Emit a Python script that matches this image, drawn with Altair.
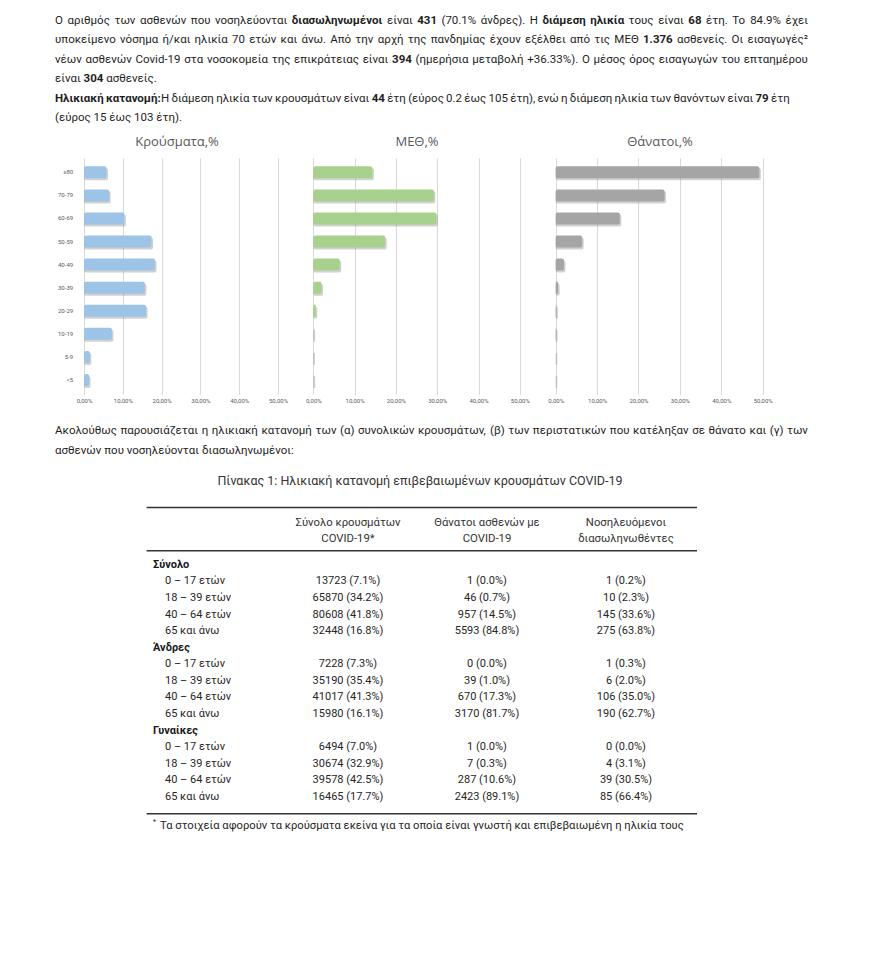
import altair as alt
import pandas as pd
import glob
import os
import struct

FONT = "Roboto"
TITLE_FONT = "Open Sans"
TXT = "#1e1e1e"
AXC = "#595959"
PARA_SIZE = 11.5

# ---------------- data ----------------
ages = ["≥80", "70-79", "60-69", "50-59", "40-49", "30-39", "20-29", "10-19", "5-9", "<5"]
cases_pct = [5.8, 6.5, 10.4, 17.4, 18.3, 15.7, 16.0, 7.2, 1.5, 1.3]
icu_pct = [14.3, 29.2, 29.8, 17.4, 6.4, 2.0, 0.6, 0.1, 0.05, 0.1]
deaths_pct = [49.2, 26.3, 15.5, 6.4, 2.0, 0.6, 0.15, 0.1, 0.0, 0.0]
panel_titles = ["Κρούσματα,%", "ΜΕΘ,%", "Θάνατοι,%"]
x_ticks = [0, 0.1, 0.2, 0.3, 0.4, 0.5]

# paragraph text: (text, bold) runs per line
para1_runs = [
    [("Ο αριθμός των ασθενών που νοσηλεύονται ", 0), ("διασωληνωμένοι", 1), (" είναι ", 0), ("431", 1),
     (" (70.1% άνδρες).  Η ", 0), ("διάμεση ηλικία", 1), (" τους είναι ", 0), ("68", 1),
     (" έτη.  Το 84.9% έχει", 0)],
    [("υποκείμενο νόσημα ή/και ηλικία 70 ετών και άνω.  Από την αρχή της πανδημίας έχουν εξέλθει από τις ΜΕΘ ", 0),
     ("1.376", 1), (" ασθενείς.  Οι εισαγωγές²", 0)],
    [("νέων ασθενών Covid-19 στα νοσοκομεία της επικράτειας είναι ", 0), ("394", 1),
     (" (ημερήσια μεταβολή +36.33%).  Ο μέσος όρος εισαγωγών του επταημέρου", 0)],
    [("είναι ", 0), ("304", 1), (" ασθενείς.", 0)],
    [("Ηλικιακή κατανομή:", 1), ("Η διάμεση ηλικία των κρουσμάτων είναι ", 0), ("44", 1),
     (" έτη (εύρος 0.2 έως 105 έτη), ενώ η διάμεση ηλικία των θανόντων είναι ", 0), ("79", 1), (" έτη", 0)],
    [("(εύρος 15 έως 103 έτη).", 0)],
]
para1_justify = [800, 800, 800, None, 774, None]
para2_runs = [
    [("Ακολούθως παρουσιάζεται η ηλικιακή κατανομή των (α) συνολικών κρουσμάτων, (β) των περιστατικών που κατέληξαν σε θάνατο και (γ) των", 0)],
    [("ασθενών που νοσηλεύονται διασωληνωμένοι:", 0)],
]
para2_justify = [800, None]
table_title = "Πίνακας 1: Ηλικιακή κατανομή επιβεβαιωμένων κρουσμάτων COVID-19"
col_headers = [["Σύνολο κρουσμάτων", "COVID-19*"], ["Θάνατοι ασθενών με", "COVID-19"], ["Νοσηλευόμενοι", "διασωληνωθέντες"]]
groups = ["Σύνολο", "Άνδρες", "Γυναίκες"]
age_groups = ["0 – 17 ετών", "18 – 39 ετών", "40 – 64 ετών", "65 και άνω"]
cases_counts = [13723, 65870, 80608, 32448, 7228, 35190, 41017, 15980, 6494, 30674, 39578, 16465]
cases_share = [7.1, 34.2, 41.8, 16.8, 7.3, 35.4, 41.3, 16.1, 7.0, 32.9, 42.5, 17.7]
deaths_counts = [1, 46, 957, 5593, 0, 39, 670, 3170, 1, 7, 287, 2423]
deaths_share = [0.0, 0.7, 14.5, 84.8, 0.0, 1.0, 17.3, 81.7, 0.0, 0.3, 10.6, 89.1]
icu_counts = [1, 10, 145, 275, 1, 6, 106, 190, 0, 4, 39, 85]
icu_share = [0.2, 2.3, 33.6, 63.8, 0.3, 2.0, 35.0, 62.7, 0.0, 3.1, 30.5, 66.4]
footnote = "Τα στοιχεία αφορούν τα κρούσματα εκείνα για τα οποία είναι γνωστή και επιβεβαιωμένη η ηλικία τους"


# ---------------- text measuring (for inline bold runs / justification) ----------------
class FontMetrics:
    def __init__(self, path):
        d = open(path, "rb").read()
        off0 = struct.unpack(">I", d[12:16])[0] if d[:4] == b"ttcf" else 0
        num = struct.unpack(">H", d[off0 + 4:off0 + 6])[0]
        t = {}
        for i in range(num):
            rec = off0 + 12 + 16 * i
            tag = d[rec:rec + 4].decode("latin1")
            t[tag] = struct.unpack(">I", d[rec + 8:rec + 12])[0]
        self.upem = struct.unpack(">H", d[t["head"] + 18:t["head"] + 20])[0]
        nhm = struct.unpack(">H", d[t["hhea"] + 34:t["hhea"] + 36])[0]
        h = t["hmtx"]
        self.adv = [struct.unpack(">H", d[h + 4 * i:h + 4 * i + 2])[0] for i in range(nhm)]
        c = t["cmap"]
        n = struct.unpack(">H", d[c + 2:c + 4])[0]
        self.sub = None
        for i in range(n):
            pid, eid, so = struct.unpack(">HHI", d[c + 4 + 8 * i:c + 12 + 8 * i])
            fmt = struct.unpack(">H", d[c + so:c + so + 2])[0]
            if fmt == 4 and ((pid == 3 and eid == 1) or pid == 0):
                self.sub = c + so
                break
        if self.sub is None:
            raise ValueError("no cmap")
        self.d = d
        self.cache = {}

    def glyph(self, ch):
        cp = ord(ch)
        d, s = self.d, self.sub
        segx2 = struct.unpack(">H", d[s + 6:s + 8])[0]
        ends = s + 14
        starts = ends + segx2 + 2
        deltas = starts + segx2
        ros = deltas + segx2
        for i in range(segx2 // 2):
            end = struct.unpack(">H", d[ends + 2 * i:ends + 2 * i + 2])[0]
            if cp <= end:
                start = struct.unpack(">H", d[starts + 2 * i:starts + 2 * i + 2])[0]
                if cp < start:
                    return 0
                delta = struct.unpack(">h", d[deltas + 2 * i:deltas + 2 * i + 2])[0]
                ro = struct.unpack(">H", d[ros + 2 * i:ros + 2 * i + 2])[0]
                if ro == 0:
                    return (cp + delta) & 0xFFFF
                addr = ros + 2 * i + ro + 2 * (cp - start)
                g = struct.unpack(">H", d[addr:addr + 2])[0]
                return (g + delta) & 0xFFFF if g else 0
        return 0

    def em(self, ch):
        if ch not in self.cache:
            g = self.glyph(ch)
            a = self.adv[g] if g < len(self.adv) else self.adv[-1]
            self.cache[ch] = a / self.upem
        return self.cache[ch]


def find_font(patterns):
    for p in patterns:
        for root in ["/usr/share/fonts", "/usr/local/share/fonts", os.path.expanduser("~/.fonts"),
                     os.path.expanduser("~/.local/share/fonts")]:
            hits = sorted(glob.glob(os.path.join(root, "**", p), recursive=True))
            if hits:
                return hits[0]
    return None


def try_metrics(patterns):
    path = find_font(patterns)
    if not path:
        return None
    try:
        return FontMetrics(path)
    except Exception:
        return None


REG = try_metrics(["Roboto-Regular.ttf", "Roboto-Regular.otf", "Roboto[wdth,wght].ttf", "Roboto-VariableFont*.ttf"])
BLD = try_metrics(["Roboto-Bold.ttf", "Roboto-Bold.otf"])

FALLBACK = {" ": .2476, ".": .263, ",": .196, ":": .242, "(": .341, ")": .348, "%": .715, "/": .411,
            "+": .554, "-": .276, "ι": .27, "ί": .27, "ω": .79, "ώ": .79, "φ": .70, "Ι": .27, "i": .237,
            "l": .237, "f": .34, "t": .32, "r": .33, "m": .856, "w": .733, "²": .37}


def em_width(ch, bold):
    if bold and BLD is not None:
        return BLD.em(ch)
    if REG is not None:
        w = REG.em(ch)
    elif ch.isdigit():
        w = .5615
    elif ch in FALLBACK:
        w = FALLBACK[ch]
    elif ch.isupper():
        w = .66
    else:
        w = .535
    return w * (1.045 if bold else 1.0)


def meas(text, bold, size):
    return sum(em_width(ch, bold) for ch in text) * size


def layout_line(runs, x0, target, size):
    words = [[]]
    for text, bold in runs:
        for j, part in enumerate(text.split(" ")):
            if j > 0:
                words.append([])
            if part:
                words[-1].append((part, bold))
    words = [w for w in words if w]
    widths = [sum(meas(p, b, size) for p, b in w) for w in words]
    space = meas(" ", 0, size)
    gap = space
    if target is not None and len(words) > 1:
        gap = max((target - x0 - sum(widths)) / (len(words) - 1), 0.8 * space)
    out, x = [], x0
    for w, wd in zip(words, widths):
        px = x
        for p, b in w:
            out.append((px, p, b))
            px += meas(p, b, size)
        x += wd + gap
    return out


def para_frame(runs_list, justify, rows):
    recs = []
    for runs, tgt, row in zip(runs_list, justify, rows):
        for px, p, b in layout_line(runs, 47, tgt, PARA_SIZE):
            recs.append({"row": row, "px": px, "text": p, "bold": b})
    return pd.DataFrame(recs)


PX = alt.Scale(domain=[0, 864], nice=False, zero=False)


def para_layer(df, yenc):
    out = []
    for b in (0, 1):
        out.append(alt.Chart(df).transform_filter(alt.datum.bold == b).mark_text(
            align="left", baseline="middle", font=FONT, fontSize=PARA_SIZE, color=TXT,
            fontWeight="bold" if b else "normal"
        ).encode(x=alt.X("px:Q", scale=PX, axis=None), y=yenc, text="text:N"))
    return out


# ---------------- paragraph 1 ----------------
p1 = para_frame(para1_runs, para1_justify, list(range(len(para1_runs))))
y1 = alt.Y("row:Q", scale=alt.Scale(domain=[-0.670, 5.902], reverse=True, nice=False, zero=False), axis=None)
para1 = alt.layer(*para_layer(p1, y1)).properties(width=864, height=127.5)

# ---------------- bar panels ----------------
label_expr = "replace(format(datum.value, '.2%'), '.', ',')"


def panel(values, color, title, xmin, xmax, width, title_dx, with_labels):
    df = pd.DataFrame({"age": ages, "v": [v / 100 for v in values]})
    xs = alt.Scale(domain=[xmin, xmax], nice=False, zero=False)
    ys = alt.Scale(domain=ages, paddingInner=0.48, paddingOuter=0.36)
    base = alt.Chart(df).encode(
        y=alt.Y("age:N", sort=ages, scale=ys, axis=None),
        x=alt.X("v:Q", scale=xs, axis=alt.Axis(
            values=x_ticks, labelExpr=label_expr, grid=True, gridColor="#d9d9d9",
            ticks=False, tickSize=0, domain=False, labelFontSize=6, labelColor=AXC,
            labelFont=FONT, labelPadding=3, title=None)),
        x2=alt.datum(0),
    )
    shadow = base.mark_bar(color="#7a7a7a", opacity=0.35, xOffset=1.5, x2Offset=0,
                           yOffset=2, y2Offset=2, cornerRadius=2)
    bars = base.mark_bar(color=color, cornerRadius=2)
    layers = [shadow, bars]
    if with_labels:
        lab = alt.Chart(df).mark_text(align="right", baseline="middle", fontSize=6,
                                      color=AXC, font=FONT).encode(
            y=alt.Y("age:N", sort=ages, scale=ys, axis=None),
            x=alt.datum(-0.028),
            text="age:N",
        )
        layers.append(lab)
    return alt.layer(*layers).properties(
        width=width, height=236.3,
        title=alt.TitleParams(title, fontSize=13, color=AXC, font=TITLE_FONT,
                              fontWeight="normal", offset=-4.2, baseline="bottom",
                              anchor="middle", dx=title_dx),
    )


left = panel(cases_pct, "#9dc3e6", panel_titles[0], -0.1959, 0.5567, 292, 23, True)
mid = panel(icu_pct, "#a9d18e", panel_titles[1], -0.0322, 0.5489, 240, -3, False)
right = panel(deaths_pct, "#a5a5a5", panel_titles[2], -0.0379, 0.5660, 250, -5, False)
bars_row = alt.hconcat(left, mid, right, spacing=0)

# ---------------- lower block: paragraph 2 + table ----------------
ROW_DOMAIN = [-9.681, 16.928]
yrow = lambda f: alt.Y(f, scale=alt.Scale(domain=ROW_DOMAIN, reverse=True, nice=False, zero=False), axis=None)
xcol_scale = alt.Scale(domain=[-1.446, 4.770], nice=False, zero=False)

p2 = para_frame(para2_runs, para2_justify, [-8.04, -6.87])
para2_layers = para_layer(p2, yrow("row:Q"))

tt = pd.DataFrame({"row": [-5.06], "text": [table_title]})
ttl = alt.Chart(tt).mark_text(align="center", baseline="middle", font=FONT, fontSize=12.5,
                              color="#333333").encode(x=alt.value(412), y=yrow("row:Q"), text="text:N")

rules_df = pd.DataFrame({"row": [-3.45, -0.843, 15.0]})
rules = alt.Chart(rules_df).mark_rule(color="#333333", strokeWidth=1.6).encode(
    y=yrow("row:Q"), x=alt.value(138.6), x2=alt.value(689))

hdr_rows = []
for ci, (a, b) in enumerate(col_headers):
    hdr_rows.append({"col": ci + 1, "row": -2.5, "text": a})
    hdr_rows.append({"col": ci + 1, "row": -1.536, "text": b})
hdr = alt.Chart(pd.DataFrame(hdr_rows)).mark_text(align="center", baseline="middle", font=FONT,
                                                   fontSize=11.3, color="#333333").encode(
    x=alt.X("col:Q", scale=xcol_scale, axis=None), y=yrow("row:Q"), text="text:N")

grp_df = pd.DataFrame({"row": [0, 5, 10], "text": groups})
grp = alt.Chart(grp_df).mark_text(align="left", baseline="middle", font=FONT, fontSize=11,
                                  fontWeight="bold", color="#1a1a1a").encode(
    x=alt.value(145), y=yrow("row:Q"), text="text:N")

age_rows, cell_rows = [], []
for g in range(3):
    for k in range(4):
        r = g * 5 + 1 + k
        i = g * 4 + k
        age_rows.append({"row": r, "text": age_groups[k]})
        cell_rows.append({"row": r, "col": 1, "text": f"{cases_counts[i]} ({cases_share[i]:.1f}%)"})
        cell_rows.append({"row": r, "col": 2, "text": f"{deaths_counts[i]} ({deaths_share[i]:.1f}%)"})
        cell_rows.append({"row": r, "col": 3, "text": f"{icu_counts[i]} ({icu_share[i]:.1f}%)"})
agel = alt.Chart(pd.DataFrame(age_rows)).mark_text(align="left", baseline="middle", font=FONT,
                                                    fontSize=11, color="#262626").encode(
    x=alt.value(157), y=yrow("row:Q"), text="text:N")
cells = alt.Chart(pd.DataFrame(cell_rows)).mark_text(align="center", baseline="middle", font=FONT,
                                                      fontSize=11, color="#262626").encode(
    x=alt.X("col:Q", scale=xcol_scale, axis=None), y=yrow("row:Q"), text="text:N")

fn_df = pd.DataFrame({"row": [15.72], "text": [footnote], "star": ["*"]})
fn = alt.Chart(fn_df).mark_text(align="left", baseline="middle", font=FONT, fontSize=11.2,
                                color="#262626").encode(x=alt.value(152), y=yrow("row:Q"), text="text:N")
star = alt.Chart(fn_df).mark_text(align="left", baseline="middle", font=FONT, fontSize=7,
                                  color="#262626", dy=-4).encode(x=alt.value(145), y=yrow("row:Q"), text="star:N")

lower = alt.layer(*para2_layers, ttl, rules, hdr, grp, agel, cells, fn, star).resolve_scale(
    x="independent").properties(width=864, height=441.7)

chart = alt.vconcat(para1, bars_row, lower, spacing=0).properties(
    padding=0, background="white"
).configure_view(strokeWidth=0)

chart.save("out.html", embed_options={"renderer": "svg", "actions": False})
